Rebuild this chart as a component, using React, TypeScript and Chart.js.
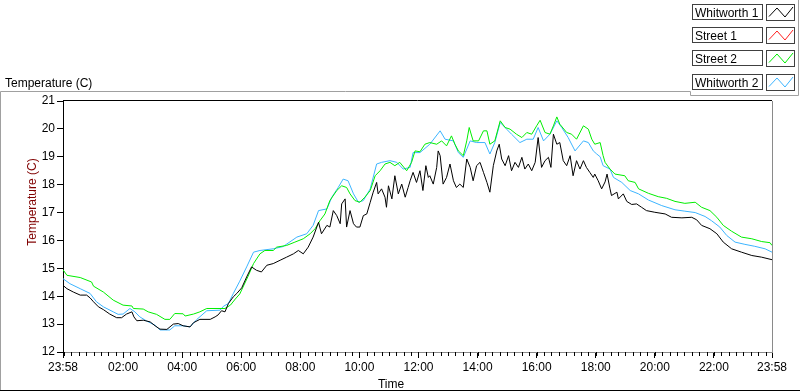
import React, { useEffect, useRef } from "react";
import { Chart, registerables } from "chart.js";

Chart.register(...registerables);

const FONT = "'Liberation Sans', Arial, sans-serif";

const seriesNames = ["Whitworth 1", "Street 1", "Street 2", "Whitworth 2"];
const seriesColors = ["#000000", "#ff2020", "#00ee00", "#3cb4ff"];

// minutes after 23:58
const xMajorMinutes = [0, 122, 242, 362, 482, 602, 722, 842, 962, 1082, 1202, 1322, 1440];
const xMajorLabels = ["23:58", "02:00", "04:00", "06:00", "08:00", "10:00", "12:00", "14:00", "16:00", "18:00", "20:00", "22:00", "23:58"];
const yTickValues = [12, 13, 14, 15, 16, 17, 18, 19, 20, 21];

const whitworth1Minutes = [0, 8, 21, 35, 48, 55, 62, 72, 82, 95, 109, 119, 129, 140, 144, 150, 163, 177, 187, 197, 211, 224, 234, 244, 258, 265, 278, 299, 309, 315, 322, 329, 336, 346, 353, 363, 373, 383, 393, 403, 414, 427, 441, 454, 468, 478, 488, 498, 508, 519, 525, 536, 542, 549, 556, 563, 566, 573, 576, 583, 590, 596, 603, 610, 617, 624, 630, 637, 640, 647, 654, 657, 661, 668, 674, 681, 688, 695, 701, 705, 711, 718, 725, 731, 737, 742, 745, 752, 759, 762, 766, 772, 779, 786, 793, 799, 806, 813, 820, 827, 833, 840, 847, 854, 861, 867, 874, 881, 886, 891, 898, 905, 911, 918, 925, 932, 938, 945, 952, 959, 965, 972, 979, 986, 991, 996, 1003, 1009, 1016, 1023, 1030, 1036, 1043, 1050, 1057, 1063, 1070, 1077, 1080, 1087, 1094, 1101, 1105, 1111, 1114, 1125, 1128, 1138, 1145, 1155, 1165, 1175, 1185, 1202, 1223, 1236, 1257, 1277, 1287, 1297, 1314, 1328, 1341, 1358, 1378, 1399, 1419, 1440];
const whitworth1Temps = [14.39, 14.27, 14.15, 14.04, 14.04, 13.94, 13.8, 13.62, 13.52, 13.36, 13.23, 13.23, 13.36, 13.44, 13.26, 13.12, 13.14, 13.08, 12.94, 12.82, 12.81, 13.0, 13.02, 12.94, 12.9, 13.05, 13.17, 13.17, 13.26, 13.33, 13.48, 13.44, 13.74, 13.98, 14.1, 14.3, 14.69, 15.05, 14.93, 14.87, 15.11, 15.17, 15.29, 15.4, 15.52, 15.64, 15.52, 15.76, 16.12, 16.65, 16.24, 16.54, 16.48, 17.07, 16.89, 16.6, 17.31, 17.49, 16.48, 17.07, 16.6, 16.48, 16.48, 16.89, 16.95, 17.37, 17.73, 18.08, 17.67, 17.85, 17.55, 17.19, 17.96, 17.49, 18.32, 17.67, 18.02, 17.55, 17.9, 18.14, 18.44, 18.08, 18.5, 17.79, 18.68, 18.26, 18.32, 18.02, 18.62, 19.21, 19.04, 18.02, 18.26, 18.74, 18.14, 17.9, 18.02, 17.9, 18.92, 18.62, 18.14, 18.68, 18.8, 18.44, 18.08, 17.73, 18.68, 19.21, 19.45, 18.92, 18.68, 19.04, 18.5, 18.8, 18.62, 18.98, 18.56, 18.74, 18.5, 18.8, 19.69, 18.62, 18.86, 18.98, 18.62, 19.81, 19.45, 19.51, 18.86, 18.68, 19.04, 18.32, 18.86, 18.56, 18.86, 18.62, 18.44, 18.26, 18.38, 18.14, 17.85, 18.1, 18.38, 17.85, 17.61, 17.73, 17.49, 17.67, 17.4, 17.29, 17.31, 17.19, 17.07, 17.01, 16.95, 16.83, 16.81, 16.83, 16.74, 16.54, 16.42, 16.24, 15.94, 15.7, 15.58, 15.46, 15.4, 15.31];

const street1Minutes: number[] = [];
const street1Temps: number[] = [];

const street2Minutes = [0, 8, 35, 58, 62, 82, 102, 122, 140, 143, 163, 173, 190, 207, 217, 227, 244, 248, 265, 278, 292, 329, 340, 350, 359, 376, 387, 400, 410, 427, 434, 454, 471, 488, 502, 512, 522, 532, 542, 556, 566, 576, 583, 593, 603, 613, 624, 634, 644, 654, 664, 674, 684, 698, 708, 715, 725, 735, 745, 759, 769, 779, 789, 796, 803, 813, 820, 825, 833, 844, 854, 861, 867, 877, 888, 898, 908, 921, 932, 942, 952, 962, 969, 979, 989, 996, 1003, 1009, 1023, 1033, 1043, 1057, 1067, 1074, 1080, 1091, 1097, 1101, 1111, 1121, 1141, 1148, 1162, 1169, 1189, 1209, 1226, 1243, 1263, 1284, 1297, 1314, 1328, 1341, 1358, 1378, 1399, 1419, 1436, 1440];
const street2Temps = [14.95, 14.75, 14.67, 14.51, 14.36, 14.15, 13.86, 13.68, 13.65, 13.56, 13.54, 13.44, 13.35, 13.17, 13.17, 13.38, 13.37, 13.29, 13.36, 13.44, 13.56, 13.56, 13.68, 13.9, 14.08, 14.72, 15.17, 15.52, 15.64, 15.64, 15.76, 15.82, 15.94, 16.06, 16.24, 16.42, 16.71, 16.95, 17.43, 17.79, 17.96, 17.9, 17.67, 17.43, 17.37, 17.55, 17.79, 18.32, 18.5, 18.74, 18.8, 18.68, 18.8, 18.5, 18.8, 19.21, 19.18, 19.45, 19.51, 19.45, 19.57, 19.39, 19.75, 19.45, 19.21, 19.04, 19.57, 20.05, 19.57, 19.57, 19.93, 19.93, 19.45, 19.57, 20.29, 20.05, 19.99, 19.81, 19.69, 19.87, 19.81, 20.11, 20.31, 19.87, 19.81, 20.11, 20.43, 20.17, 19.87, 19.81, 19.63, 20.11, 19.99, 19.63, 19.45, 19.51, 19.04, 18.8, 18.56, 18.38, 18.32, 18.14, 18.08, 17.85, 17.69, 17.57, 17.51, 17.4, 17.33, 17.37, 17.19, 17.07, 16.83, 16.54, 16.33, 16.12, 16.06, 15.96, 15.92, 15.82];

const whitworth2Minutes = [0, 14, 35, 55, 68, 82, 102, 112, 122, 136, 146, 156, 170, 187, 197, 217, 227, 244, 258, 272, 292, 319, 326, 336, 346, 359, 373, 387, 400, 427, 447, 475, 495, 508, 519, 536, 546, 559, 569, 579, 590, 600, 610, 624, 637, 647, 664, 678, 691, 705, 711, 725, 745, 766, 776, 793, 803, 813, 827, 840, 857, 867, 877, 888, 901, 911, 928, 942, 955, 965, 976, 989, 1003, 1013, 1026, 1040, 1057, 1067, 1077, 1084, 1091, 1097, 1111, 1118, 1135, 1152, 1169, 1189, 1216, 1243, 1263, 1284, 1304, 1317, 1334, 1348, 1365, 1385, 1405, 1426, 1440];
const whitworth2Temps = [14.63, 14.45, 14.27, 14.1, 13.8, 13.62, 13.44, 13.35, 13.36, 13.56, 13.44, 13.26, 13.11, 12.96, 12.79, 12.79, 12.94, 12.94, 12.9, 13.17, 13.48, 13.5, 13.64, 13.74, 14.1, 14.54, 15.05, 15.58, 15.64, 15.7, 15.78, 16.12, 16.24, 16.54, 17.07, 17.13, 17.55, 17.9, 18.2, 18.14, 17.67, 17.37, 17.43, 17.85, 18.74, 18.8, 18.86, 18.8, 18.56, 18.62, 19.15, 19.15, 19.45, 19.93, 19.63, 19.57, 19.15, 18.98, 19.57, 19.51, 19.51, 19.1, 19.51, 20.23, 19.99, 19.81, 19.51, 19.63, 19.63, 20.05, 19.57, 19.81, 20.29, 20.05, 19.69, 19.21, 19.57, 19.51, 19.21, 19.1, 19.0, 18.68, 18.56, 18.26, 18.08, 17.79, 17.67, 17.45, 17.25, 17.1, 17.05, 17.0, 16.86, 16.71, 16.48, 16.18, 15.94, 15.86, 15.79, 15.7, 15.58];

const seriesMinutes = [whitworth1Minutes, street1Minutes, street2Minutes, whitworth2Minutes];
const seriesTemps = [whitworth1Temps, street1Temps, street2Temps, whitworth2Temps];

const legendRowsY = [4, 27, 50, 74];

const decorPlugin = {
  id: "decor",
  afterDraw(chart: any) {
    const ctx = chart.ctx as CanvasRenderingContext2D;
    const { left, right, top, bottom } = chart.chartArea;
    const xs = chart.scales.x;
    ctx.save();
    ctx.lineWidth = 1;

    // minor ticks every 15 minutes of clock time
    ctx.strokeStyle = "#000";
    ctx.beginPath();
    for (let m = 2; m < 1440; m += 15) {
      const px = Math.round(xs.getPixelForValue(m)) + 0.5;
      ctx.moveTo(px, bottom);
      ctx.lineTo(px, bottom + 4);
    }
    ctx.stroke();

    // plot frame: top black, right gray
    ctx.strokeStyle = "#000";
    ctx.beginPath();
    ctx.moveTo(left, Math.round(top) - 0.5);
    ctx.lineTo(right, Math.round(top) - 0.5);
    ctx.stroke();
    ctx.strokeStyle = "#8a8a8a";
    ctx.beginPath();
    ctx.moveTo(Math.round(right) + 0.5, top);
    ctx.lineTo(Math.round(right) + 0.5, bottom + 1);
    ctx.stroke();

    // panel outline
    ctx.strokeStyle = "#a0a0a0";
    ctx.beginPath();
    ctx.moveTo(0.5, 390);
    ctx.lineTo(0.5, 91.5);
    ctx.lineTo(690.5, 91.5);
    ctx.lineTo(690.5, 95.5);
    ctx.lineTo(798.5, 95.5);
    ctx.lineTo(798.5, 0);
    ctx.stroke();
    ctx.strokeStyle = "#000";
    ctx.beginPath();
    ctx.moveTo(0, 390.5);
    ctx.lineTo(800, 390.5);
    ctx.stroke();

    // titles
    ctx.fillStyle = "#000";
    ctx.font = `12px ${FONT}`;
    ctx.textAlign = "left";
    ctx.textBaseline = "alphabetic";
    ctx.fillText("Temperature (C)", 5, 87);

    ctx.textAlign = "center";
    ctx.fillText("Time", 391, 388);

    ctx.save();
    ctx.translate(36, 202);
    ctx.rotate(-Math.PI / 2);
    ctx.fillStyle = "#800000";
    ctx.fillText("Temperature (C)", 0, 0);
    ctx.restore();

    // legend
    seriesNames.forEach((name, i) => {
      const y = legendRowsY[i];
      ctx.fillStyle = "#fff";
      ctx.fillRect(692, y, 71, 16);
      ctx.fillRect(766, y, 29, 17);
      ctx.strokeStyle = "#404040";
      ctx.strokeRect(692.5, y + 0.5, 70, 15);
      ctx.strokeRect(766.5, y + 0.5, 28, 16);
      ctx.fillStyle = "#000";
      ctx.textAlign = "left";
      ctx.fillText(name, 695, y + 13);
      ctx.strokeStyle = seriesColors[i];
      ctx.beginPath();
      ctx.moveTo(769, y + 12.5);
      ctx.lineTo(777, y + 4);
      ctx.lineTo(785, y + 13);
      ctx.lineTo(793, y + 3);
      ctx.stroke();
    });
    ctx.restore();
  },
};

export default function App() {
  const ref = useRef<HTMLCanvasElement>(null);

  useEffect(() => {
    if (!ref.current) return;
    const datasets = seriesNames.map((name, i) => ({
      label: name,
      data: seriesMinutes[i].map((m, j) => ({ x: m, y: seriesTemps[i][j] })),
      borderColor: seriesColors[i],
      backgroundColor: seriesColors[i],
      borderWidth: 1,
      pointRadius: 0,
      tension: 0,
      fill: false,
    }));

    const chart = new Chart(ref.current, {
      type: "line",
      data: { datasets },
      plugins: [decorPlugin],
      options: {
        responsive: false,
        maintainAspectRatio: false,
        devicePixelRatio: 1,
        animation: false,
        events: [],
        layout: { padding: { left: 0, top: 101, right: 28, bottom: 0 } },
        plugins: { legend: { display: false }, tooltip: { enabled: false }, title: { display: false } },
        scales: {
          x: {
            type: "linear",
            min: 0,
            max: 1440,
            afterBuildTicks: (scale: any) => {
              scale.ticks = xMajorMinutes.map((v) => ({ value: v }));
            },
            afterFit: (scale: any) => {
              scale.height = 40;
              scale.paddingLeft = 0;
              scale.paddingRight = 0;
            },
            ticks: {
              autoSkip: false,
              maxRotation: 0,
              padding: 2,
              color: "#000",
              font: { family: FONT, size: 12 },
              callback: (_v: any, idx: number) => xMajorLabels[idx],
            },
            grid: { drawOnChartArea: false, drawTicks: true, tickLength: 6, tickColor: "#000" },
            border: { display: true, color: "#8a8a8a" },
          },
          y: {
            type: "linear",
            min: 12,
            max: 21,
            afterBuildTicks: (scale: any) => {
              scale.ticks = yTickValues.map((v) => ({ value: v }));
            },
            afterFit: (scale: any) => {
              scale.width = 63;
              scale.paddingTop = 0;
              scale.paddingBottom = 0;
            },
            ticks: {
              padding: 2,
              color: "#000",
              font: { family: FONT, size: 12 },
              callback: (v: any) => String(v),
            },
            grid: { drawOnChartArea: false, drawTicks: true, tickLength: 6, tickColor: "#000" },
            border: { display: true, color: "#000" },
          },
        },
      },
    });
    return () => chart.destroy();
  }, []);

  return (
    <div style={{ position: "fixed", left: 0, top: 0, width: 800, height: 392, background: "#fff" }}>
      <canvas ref={ref} width={800} height={392} style={{ display: "block" }} />
    </div>
  );
}
